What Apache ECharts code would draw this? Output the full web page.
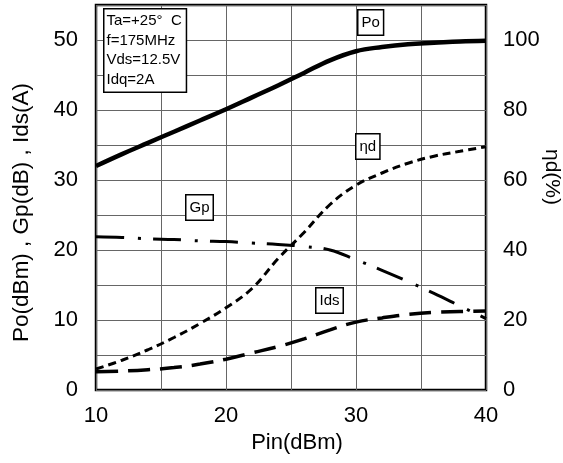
<!DOCTYPE html>
<html><head><meta charset="utf-8">
<script src="https://cdn.jsdelivr.net/npm/echarts@6/dist/echarts.min.js"></script>
<style>html,body{margin:0;padding:0;background:#fff}#c{width:563px;height:463px}</style>
</head><body><div id="c"></div>
<script>
const pin = [10,12,14,16,18,20,22,24,26,28,30,32,34,36,38,40];
const po  = [32,33.7,35.3,36.9,38.5,40.1,41.8,43.5,45.3,47.1,48.4,49.0,49.4,49.6,49.8,49.9];
const gp  = [21.9,21.8,21.6,21.5,21.3,21.2,21.0,20.8,20.5,20.0,18.6,17.1,15.5,13.8,12.0,10.2];
const eta = [6,8.5,11.5,15,19,23.5,29,37.5,45,53,58.5,62,64.8,66.8,68.2,69.5];
const ids = [2.6,2.7,2.9,3.2,3.7,4.4,5.3,6.2,7.3,8.6,9.7,10.3,10.8,11.1,11.2,11.3];
const xTicks = [10,20,30,40];
const leftTicks = [0,10,20,30,40,50];
const rightTicks = [0,20,40,60,80,100];
const conditions = ['Ta=+25°  C','f=175MHz','Vds=12.5V','Idq=2A'];
const pairs = a => pin.map((x,i)=>[x,a[i]]);
const F = 'Liberation Sans, Arial, sans-serif';
const chart = echarts.init(document.getElementById('c'));
const boxStyle = (t,x,y)=>({type:'text',left:x,top:y,z:100,style:{text:t,fill:'#000',font:'15px '+F,backgroundColor:'#fff',borderColor:'#000',borderWidth:1.5,padding:[5,3,4,3]}});
chart.setOption({
  animation:false,
  grid:{left:96,right:77,top:5,bottom:73,show:true,borderColor:'#000',borderWidth:2.5,backgroundColor:'transparent',outerBoundsMode:'none',containLabel:false},
  xAxis:{type:'value',min:10,max:40,interval:5,name:'Pin(dBm)',nameLocation:'middle',nameGap:42,
    nameTextStyle:{fontSize:22,fontFamily:F,color:'#000',padding:[0,0,0,12]},
    axisLine:{show:false},axisTick:{show:false},
    axisLabel:{fontSize:22,fontFamily:F,color:'#000',margin:15,formatter:v=>xTicks.includes(v)?String(v):''},
    splitLine:{lineStyle:{color:'#666',width:1}}},
  yAxis:[
    {type:'value',min:0,max:55,interval:5,name:'Po(dBm) , Gp(dB) , Ids(A)',nameLocation:'middle',nameGap:63,
     nameTextStyle:{fontSize:22.5,fontFamily:F,color:'#000',padding:[0,30,0,0]},
     axisLine:{show:false},axisTick:{show:false},
     axisLabel:{fontSize:22,fontFamily:F,color:'#000',margin:18,formatter:v=>leftTicks.includes(v)?String(v):''},
     splitLine:{lineStyle:{color:'#666',width:1}}},
    {type:'value',min:0,max:110,interval:10,position:'right',
     axisLine:{show:false},axisTick:{show:false},
     axisLabel:{fontSize:22,fontFamily:F,color:'#000',margin:17,formatter:v=>rightTicks.includes(v)?String(v):''},
     splitLine:{show:false}}
  ],
  series:[
    {name:'Po',type:'line',yAxisIndex:0,data:pairs(po),smooth:0.4,showSymbol:false,lineStyle:{color:'#000',width:4.5}},
    {name:'Gp',type:'line',yAxisIndex:0,data:pairs(gp),smooth:0.4,showSymbol:false,lineStyle:{color:'#000',width:3,type:[28,14,3,12],cap:'butt'}},
    {name:'ηd',type:'line',yAxisIndex:1,data:pairs(eta),smooth:0.4,showSymbol:false,lineStyle:{color:'#000',width:3,type:[8,5],cap:'butt'}},
    {name:'Ids',type:'line',yAxisIndex:0,data:pairs(ids),smooth:0.4,showSymbol:false,lineStyle:{color:'#000',width:3.5,type:[22,10],cap:'butt'}}
  ],
  graphic:[
    {type:'text',x:552,y:177,rotation:-Math.PI/2,z:100,style:{text:'ηd(%)',fill:'#000',font:'21px '+F,align:'center',verticalAlign:'middle'}},
    {type:'text',left:103,top:8,z:100,style:{text:conditions.join('\n'),fill:'#000',font:'15px '+F,lineHeight:19.5,backgroundColor:'#fff',borderColor:'#000',borderWidth:1.5,padding:[2,4,2,2]}},
    boxStyle('Po',357,9),
    boxStyle('ηd',355,133),
    boxStyle('Gp',185,194),
    boxStyle('Ids',315,287)
  ]
});
</script></body></html>
